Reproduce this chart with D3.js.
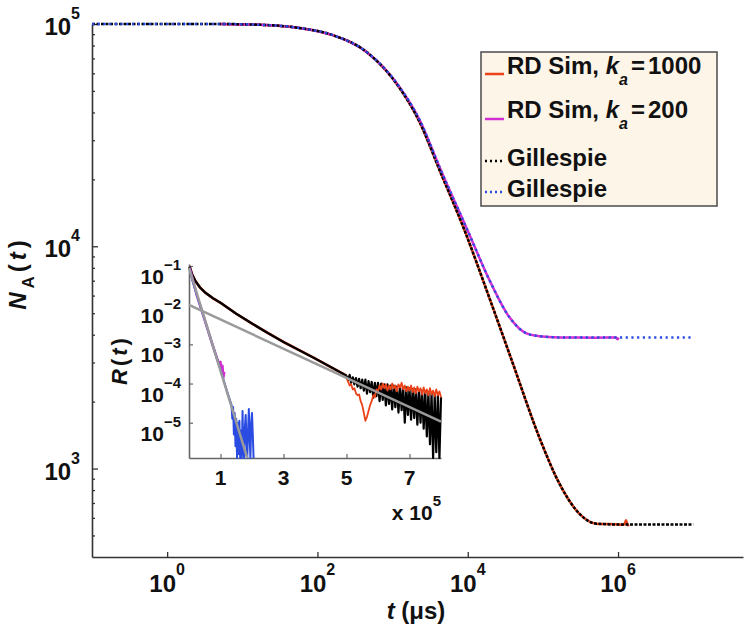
<!DOCTYPE html>
<html>
<head>
<meta charset="utf-8">
<script src="https://cdn.jsdelivr.net/npm/d3@7"></script>
<style>
  body { margin: 0; background: #fff; }
  svg { display: block; }
  text { font-family: "Liberation Sans", Arial, Helvetica, sans-serif; font-weight: bold; fill: #111; }
</style>
</head>
<body>
<svg id="chart" width="750" height="630"></svg>
<script>
// ---- main panel data: N_A(t), t in microseconds ----
const gill1000T = [0.1, 5, 20, 58, 160, 451, 1240, 2290, 4220, 9060, 19500, 39400, 89700, 1.66e5, 3.05e5, 5.14e5, 1.04e6, 1e7];
const gill1000N = [1e5, 1e5, 99000, 95900, 89100, 74800, 51500, 36200, 22000, 11800, 5830, 3000, 1380, 855, 627, 565, 560, 560];

const rd1000T = [5, 20, 58, 160, 451, 1240, 2290, 4220, 9060, 19500, 39400, 89700, 1.66e5, 3.05e5, 5.14e5, 1.04e6, 1.2e6, 1.28e6, 1.34e6, 1.4e6];
const rd1000N = [1e5, 99000, 95900, 89100, 74800, 51500, 36200, 22000, 11800, 5830, 3000, 1380, 855, 627, 565, 560, 558, 585, 556, 560];

const gill200T = [0.1, 5, 20, 58, 160, 451, 1240, 2290, 4220, 9930, 19500, 35900, 60400, 89700, 1.66e5, 1e7];
const gill200N = [1e5, 1e5, 99000, 95900, 89100, 74800, 52000, 37000, 22700, 11800, 7030, 4790, 4055, 3940, 3890, 3890];

const rd200T = [5, 20, 58, 160, 451, 1240, 2290, 4220, 9930, 19500, 35900, 60400, 89700, 1.66e5, 5e5, 9.4e5, 9.8e5, 1.02e6];
const rd200N = [1e5, 99000, 95900, 89100, 74800, 52000, 37000, 22700, 11800, 7030, 4790, 4055, 3940, 3890, 3880, 3890, 3820, 3885];

const xTicks = [1, 1e2, 1e4, 1e6];
const yTicks = [1e3, 1e4, 1e5];
const yMinor = [500, 600, 700, 800, 900, 2000, 3000, 4000, 5000, 6000, 7000, 8000, 9000,
                20000, 30000, 40000, 50000, 60000, 70000, 80000, 90000];

// ---- inset data: R(t), t in units of 1e5 us, values as log10 R ----
const insetSmoothT = [0.02, 0.1, 0.2, 0.35, 0.5, 0.75, 1.0, 1.5, 2.0, 2.5, 3.0, 3.5, 4.0, 4.5, 5.0];
const insetSmoothExp = [-1.02, -1.22, -1.38, -1.55, -1.67, -1.82, -1.94, -2.22, -2.47, -2.71, -2.94, -3.15, -3.36, -3.58, -3.80];

const tailT = [5.00, 5.05, 5.10, 5.15, 5.20, 5.25, 5.30, 5.35, 5.40, 5.45, 5.50, 5.55, 5.60, 5.65, 5.70, 5.75,
               5.80, 5.85, 5.90, 5.95, 6.00, 6.05, 6.10, 6.15, 6.20, 6.25, 6.30, 6.35, 6.40, 6.45, 6.50, 6.55,
               6.60, 6.65, 6.70, 6.75, 6.80, 6.85, 6.90, 6.95, 7.00, 7.05, 7.10, 7.15, 7.20, 7.25, 7.30, 7.35,
               7.40, 7.45, 7.50, 7.55, 7.60, 7.65, 7.70, 7.75, 7.80, 7.85, 7.90, 7.95, 8.00];
const blackTailExp = [-3.80, -3.92, -3.78, -3.98, -3.84, -4.02, -3.86, -4.08, -3.88, -4.12, -3.90, -4.18, -3.90, -4.26, -3.94, -4.22,
                      -3.96, -4.36, -3.98, -4.32, -3.98, -4.45, -4.00, -4.42, -4.02, -4.56, -4.02, -4.52, -4.05, -4.66, -4.05, -4.60,
                      -4.08, -4.74, -4.08, -4.68, -4.10, -5.00, -4.10, -4.80, -4.12, -4.92, -4.14, -4.88, -4.15, -5.05, -4.16, -5.00,
                      -4.18, -5.15, -4.20, -5.35, -4.22, -5.55, -4.25, -5.90, -4.28, -5.75, -4.30, -5.90, -4.35];
const redTailExp = [-3.85, -3.95, -4.05, -4.02, -4.15, -4.12, -4.25, -4.30, -4.28, -4.45, -4.55, -4.75, -4.95, -4.85, -4.70, -4.55,
                    -4.45, -4.30, -4.35, -4.15, -4.20, -4.05, -4.15, -4.00, -4.12, -4.02, -4.18, -4.05, -4.15, -4.00, -4.12, -4.05,
                    -4.20, -4.02, -4.10, -3.98, -4.15, -4.05, -4.20, -4.08, -4.18, -4.05, -4.22, -4.10, -4.25, -4.08, -4.20, -4.12,
                    -4.28, -4.10, -4.25, -4.15, -4.30, -4.12, -4.28, -4.18, -4.32, -4.15, -4.30, -4.20, -4.35];

const blueT = [0.02, 0.1, 0.25, 0.5, 0.75, 1.0, 1.2, 1.35, 1.375, 1.40, 1.425, 1.45, 1.475, 1.50, 1.525, 1.55, 1.575,
               1.60, 1.625, 1.65, 1.675, 1.70, 1.725, 1.75, 1.775, 1.80, 1.825, 1.85, 1.875, 1.90, 1.925, 1.95, 1.975, 2.00, 2.025, 2.05];
const blueExp = [-1.05, -1.35, -1.75, -2.38, -3.02, -3.65, -4.18, -4.55, -4.9, -4.6, -5.3, -4.75, -5.6, -4.9, -5.9, -5.0, -5.8,
                 -4.95, -5.9, -5.2, -5.9, -4.7, -5.7, -5.9, -5.1, -4.8, -5.5, -5.9, -5.2, -4.65, -5.4, -5.9, -5.0, -4.75, -5.3, -5.9];

const magentaT = [0.02, 0.25, 0.5, 0.75, 0.95, 1.0, 1.03, 1.06, 1.09, 1.12];
const magentaExp = [-1.05, -1.75, -2.38, -3.02, -3.5, -3.45, -3.75, -3.55, -3.85, -3.7];

const fitSlowT = [0, 8];
const fitSlowExp = [-1.995, -4.97];
const fitFastT = [0, 1.85];
const fitFastExp = [-1.05, -5.9];

const insetXTicks = [1, 3, 5, 7];
const insetYTicks = [-5, -4, -3, -2, -1];

const colors = { red: '#ec4219', magenta: '#d12fd2', blue: '#2b4ce2', black: '#000', gray: '#9a9a9a' };

const svg = d3.select('#chart');
const zip = (a, b) => a.map((v, i) => [v, b[i]]);

// ---- main axes ----
const x = d3.scaleLog().domain([0.1, 4.6e7]).range([92, 743]);
const y = d3.scaleLog().domain([400, 1e5]).range([557, 24]);

svg.append('g')
    .attr('transform', 'translate(0,557)')
    .call(d3.axisBottom(x).tickValues(xTicks).tickSizeInner(-5).tickSizeOuter(0).tickFormat(''));
svg.append('g')
    .attr('transform', 'translate(92,0)')
    .call(d3.axisLeft(y).tickValues(yTicks).tickSizeInner(-6).tickSizeOuter(0).tickFormat(''));
svg.append('g')
    .attr('transform', 'translate(92,0)')
    .call(d3.axisLeft(y).tickValues(yMinor).tickSizeInner(-3).tickSizeOuter(0).tickFormat(''))
    .select('.domain').remove();

svg.selectAll('.domain').attr('stroke', '#333').attr('stroke-width', 1.6);
svg.selectAll('.tick line').attr('stroke', '#333').attr('stroke-width', 1.3);

function powLabel(g, px, py, exp, anchor, size, supSize, supDy) {
    const t = g.append('text')
        .attr('x', px).attr('y', py)
        .attr('text-anchor', anchor)
        .style('font-size', size + 'px');
    t.append('tspan').text('10');
    t.append('tspan').attr('dy', supDy).style('font-size', supSize + 'px').text(exp);
    return t;
}

xTicks.forEach(v => powLabel(svg, x(v), 592, Math.round(Math.log10(v)), 'middle', 24, 16, -17));
yTicks.forEach(v => powLabel(svg, 80, y(v) + 11, Math.round(Math.log10(v)), 'end', 24, 16, -16));

// axis titles
const xt = svg.append('text').attr('x', 416).attr('y', 619).attr('text-anchor', 'middle').style('font-size', '24px');
xt.append('tspan').style('font-style', 'italic').text('t');
xt.append('tspan').text(' (\u03bcs)');

const yt = svg.append('text')
    .attr('transform', 'translate(26,273) rotate(-90)')
    .attr('text-anchor', 'middle')
    .style('font-size', '24px')
    .style('letter-spacing', '4px');
yt.append('tspan').style('font-style', 'italic').text('N');
yt.append('tspan').attr('dy', 8).style('font-size', '17px').text('A');
yt.append('tspan').attr('dy', -8).text('(');
yt.append('tspan').style('font-style', 'italic').text('t');
yt.append('tspan').text(')');

// ---- main curves ----
const line = d3.line()
    .x(d => x(d[0]))
    .y(d => y(d[1]))
    .curve(d3.curveMonotoneX);

const mainLines = [
    { data: zip(rd1000T, rd1000N), color: colors.red, dash: null },
    { data: zip(rd200T, rd200N), color: colors.magenta, dash: null },
    { data: zip(gill1000T, gill1000N), color: colors.black, dash: '3,1.5' },
    { data: zip(gill200T, gill200N), color: colors.blue, dash: '2.2,3.5' }
];
mainLines.forEach(s => {
    svg.append('path')
        .datum(s.data)
        .attr('fill', 'none')
        .attr('stroke', s.color)
        .attr('stroke-width', 2.5)
        .attr('stroke-dasharray', s.dash)
        .attr('d', line);
});

// ---- legend ----
const legend = svg.append('g');
legend.append('rect')
    .attr('x', 481).attr('y', 52).attr('width', 236).attr('height', 154)
    .attr('fill', '#fdf5e8').attr('stroke', '#555').attr('stroke-width', 1.6);

const legendRows = [
    { label: 'RD Sim, ', ka: '1000', color: colors.red, dash: null, base: 74, ly: 74 },
    { label: 'RD Sim, ', ka: '200', color: colors.magenta, dash: null, base: 118, ly: 119 },
    { label: 'Gillespie', ka: null, color: colors.black, dash: '2,3', base: 166, ly: 161 },
    { label: 'Gillespie', ka: null, color: colors.blue, dash: '2,3', base: 197, ly: 192 }
];
legendRows.forEach(r => {
    legend.append('line')
        .attr('x1', 485).attr('x2', 504).attr('y1', r.ly).attr('y2', r.ly)
        .attr('stroke', r.color).attr('stroke-width', 2.5)
        .attr('stroke-dasharray', r.dash);
    const t = legend.append('text').attr('x', 507).attr('y', r.base).style('font-size', '24px');
    t.append('tspan').text(r.label);
    if (r.ka) {
        t.append('tspan').style('font-style', 'italic').text('k');
        t.append('tspan').attr('dx', 0).attr('dy', 11).style('font-size', '16px').style('font-style', 'italic').text('a');
        t.append('tspan').attr('dx', 3).attr('dy', -11).text('=');
        t.append('tspan').attr('dx', 3).text(r.ka);
    }
});

// ---- inset ----
const ix = d3.scaleLinear().domain([0, 8]).range([189, 441]);
const iy = d3.scaleLog().domain([1.26e-6, 0.112]).range([458, 264]);

const inset = svg.append('g');
inset.append('g')
    .attr('transform', 'translate(0,458)')
    .call(d3.axisBottom(ix).tickValues(insetXTicks).tickSizeInner(-4).tickSizeOuter(0).tickFormat(''));
inset.append('g')
    .attr('transform', 'translate(189,0)')
    .call(d3.axisLeft(iy).tickValues(insetYTicks.map(e => Math.pow(10, e))).tickSizeInner(-4).tickSizeOuter(0).tickFormat(''));
inset.selectAll('.domain').attr('stroke', '#666').attr('stroke-width', 1.6);
inset.selectAll('.tick line').attr('stroke', '#666').attr('stroke-width', 1.2);

insetXTicks.forEach(v => {
    inset.append('text').attr('x', ix(v)).attr('y', 485)
        .attr('text-anchor', 'middle').style('font-size', '21px').text(v);
});
insetYTicks.forEach(e => {
    powLabel(inset, 181, iy(Math.pow(10, e)) + 18, '\u2212' + Math.abs(e), 'end', 21, 15, -14);
});
powLabel(inset, 441, 520, 5, 'end', 21, 15, -14).select('tspan').text('x 10');

const rt = inset.append('text')
    .attr('transform', 'translate(127,360) rotate(-90)')
    .attr('text-anchor', 'middle')
    .style('font-size', '22px')
    .style('letter-spacing', '3px');
rt.append('tspan').style('font-style', 'italic').text('R');
rt.append('tspan').text('(');
rt.append('tspan').style('font-style', 'italic').text('t');
rt.append('tspan').text(')');

const iline = d3.line()
    .x(d => ix(d[0]))
    .y(d => iy(Math.pow(10, d[1])));

const insetLines = [
    { data: zip(insetSmoothT, insetSmoothExp), color: colors.red, w: 2.6 },
    { data: zip(insetSmoothT, insetSmoothExp), color: colors.black, w: 2.4 },
    { data: zip(tailT, blackTailExp), color: colors.black, w: 2.2 },
    { data: zip(tailT, redTailExp), color: colors.red, w: 1.8 },
    { data: zip(magentaT, magentaExp), color: colors.magenta, w: 2.6 },
    { data: zip(blueT, blueExp), color: colors.blue, w: 2 },
    { data: zip(fitSlowT, fitSlowExp), color: colors.gray, w: 2.5 },
    { data: zip(fitFastT, fitFastExp), color: colors.gray, w: 2.5 }
];
insetLines.forEach(s => {
    inset.append('path')
        .datum(s.data)
        .attr('fill', 'none')
        .attr('stroke', s.color)
        .attr('stroke-width', s.w)
        .attr('stroke-linejoin', 'round')
        .attr('d', iline);
});
</script>
</body>
</html>
